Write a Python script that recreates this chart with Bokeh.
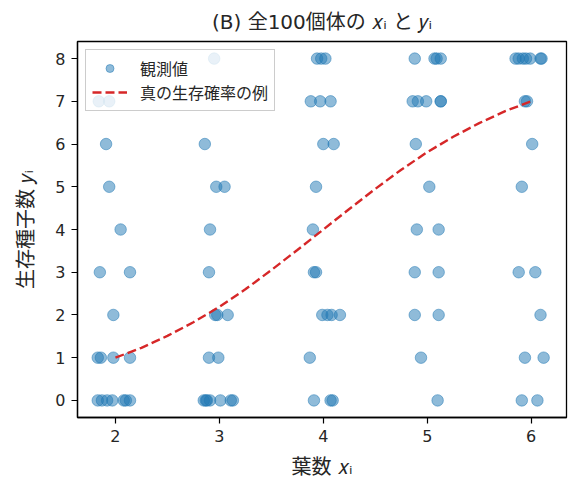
from bokeh.plotting import figure
from bokeh.models import Range1d, FixedTicker, Legend, LegendItem, ColumnDataSource
from bokeh.embed import file_html
from bokeh.resources import INLINE

# observed leaves (x, jittered) and surviving seeds (y)
obs_x = [
    # x ~ 2
    1.84, 1.94, 1.91, 1.94, 2.05, 1.85, 2.14, 1.98, 1.83, 1.86, 1.98, 2.14,
    1.83, 1.87, 1.92, 1.97, 2.08, 2.10, 2.14,
    # x ~ 3
    2.95, 2.86, 2.97, 3.05, 2.91, 2.90, 2.96, 2.98, 3.08, 2.90, 2.99,
    2.85, 2.88, 2.91, 3.01, 3.11, 3.13, 2.87,
    # x ~ 4
    3.94, 3.98, 4.02, 3.88, 3.97, 4.07, 4.00, 4.10, 3.93, 3.90, 3.91, 3.93,
    3.99, 4.04, 4.08, 4.16, 3.87, 3.91, 4.07, 4.09,
    # x ~ 5
    4.88, 5.07, 5.09, 5.13, 4.86, 4.91, 4.99, 5.13, 5.13, 4.89, 5.02, 4.90,
    5.11, 4.88, 5.11, 4.88, 5.11, 4.94, 5.10,
    # x ~ 6
    5.85, 5.88, 5.92, 5.95, 5.99, 6.09, 6.10, 5.94, 5.96, 6.01, 5.91, 5.88,
    6.04, 6.09, 5.94, 6.12, 5.91, 6.06,
]
obs_y = [
    7, 7, 6, 5, 4, 3, 3, 2, 1, 1, 1, 1,
    0, 0, 0, 0, 0, 0, 0,
    8, 6, 5, 5, 4, 3, 2, 2, 2, 1, 1,
    0, 0, 0, 0, 0, 0, 0,
    8, 8, 8, 7, 7, 7, 6, 6, 5, 4, 3, 3,
    2, 2, 2, 2, 1, 0, 0, 0,
    8, 8, 8, 8, 7, 7, 7, 7, 7, 6, 5, 4,
    4, 3, 3, 2, 2, 1, 0,
    8, 8, 8, 8, 8, 8, 8, 7, 7, 6, 5, 3,
    3, 2, 1, 1, 0, 0,
]

# example true survival curve
curve_x = [2.0, 2.25, 2.5, 2.75, 3.0, 3.25, 3.5, 3.75, 4.0,
           4.25, 4.5, 4.75, 5.0, 5.25, 5.5, 5.75, 6.0]
curve_y = [1.00, 1.23, 1.51, 1.83, 2.19, 2.60, 3.05, 3.52, 4.00,
           4.48, 4.95, 5.40, 5.81, 6.17, 6.49, 6.77, 7.00]

x_ticks = [2, 3, 4, 5, 6]
y_ticks = [0, 1, 2, 3, 4, 5, 6, 7, 8]

MIX = "DejaVu Sans, Noto Sans CJK JP"
JP = "Noto Sans CJK JP"
NUM = "DejaVu Sans"
TXT = "#262626"

p = figure(width=578, height=486, output_backend="svg", toolbar_location=None,
           x_range=Range1d(1.635, 6.34), y_range=Range1d(-0.4, 8.4),
           min_border_left=77, min_border_right=12, min_border_top=39,
           min_border_bottom=69)
p.title.text = "(B) 全100個体の 𝑥ᵢ と 𝑦ᵢ"
p.title.text_font = MIX
p.title.text_font_size = "20px"
p.title.text_font_style = "normal"
p.title.align = "center"
p.title.text_color = TXT
p.title.standoff = 15

p.xgrid.visible = False
p.ygrid.visible = False
p.outline_line_color = "black"
p.outline_line_width = 1.3

for ax in (p.xaxis, p.yaxis):
    ax.axis_line_color = "black"
    ax.axis_line_width = 1.3
    ax.major_tick_out = 6
    ax.major_tick_in = 0
    ax.major_tick_line_width = 1.2
    ax.minor_tick_line_color = None
    ax.major_label_text_font = NUM
    ax.major_label_text_font_size = "16px"
    ax.major_label_text_color = TXT
    ax.major_label_standoff = 6
    ax.axis_label_text_font = MIX
    ax.axis_label_text_font_size = "20px"
    ax.axis_label_text_font_style = "normal"
    ax.axis_label_text_color = TXT

p.xaxis.ticker = FixedTicker(ticks=x_ticks)
p.yaxis.ticker = FixedTicker(ticks=y_ticks)
p.xaxis.axis_label = "葉数 𝑥ᵢ"
p.yaxis.axis_label = "生存種子数 𝑦ᵢ"
p.xaxis.axis_label_standoff = 10
p.yaxis.axis_label_standoff = 14

src = ColumnDataSource(dict(x=obs_x, y=obs_y))
r_pts = p.scatter("x", "y", source=src, size=11.5, fill_color="#1f77b4",
                  fill_alpha=0.5, line_color="#1f77b4", line_alpha=0.5)
r_line = p.line(curve_x, curve_y, line_color="#d62728", line_width=2.4,
                line_dash="9 4")

legend = Legend(items=[LegendItem(label="観測値", renderers=[r_pts]),
                       LegendItem(label="真の生存確率の例", renderers=[r_line])],
                location="top_left")
legend.label_text_font = JP
legend.label_text_font_size = "16px"
legend.label_text_color = TXT
legend.label_height = 18
legend.border_line_color = "#cccccc"
legend.border_line_alpha = 1
legend.background_fill_alpha = 0.8
legend.glyph_width = 35
legend.glyph_height = 20
legend.spacing = 0
legend.padding = 6
legend.margin = 8
legend.label_standoff = 13
p.add_layout(legend)

open("out.html", "w").write(file_html(p, INLINE))
